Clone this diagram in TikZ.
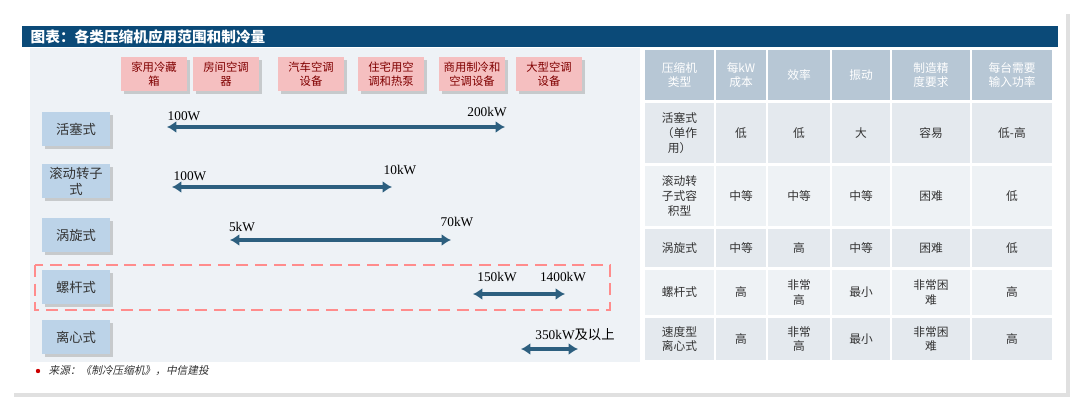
\documentclass[tikz,border=0pt]{standalone}
\usepackage{fontspec}
\setmainfont{Liberation Serif}
\newfontfamily\cjk{Noto Sans CJK SC}
\newfontfamily\cjkslant[FakeSlant=0.2]{Noto Sans CJK SC}
\usetikzlibrary{arrows.meta,positioning,shadows}
\definecolor{barblue}{HTML}{0B4A78}
\definecolor{panelbg}{HTML}{EEF2F6}
\definecolor{pinkfill}{HTML}{F5BFC0}
\definecolor{rowblue}{HTML}{BCD3E8}
\definecolor{arrowblue}{HTML}{2D5F7F}
\definecolor{headfill}{HTML}{B7C7D5}
\definecolor{rowa}{HTML}{E4E9EE}
\definecolor{rowb}{HTML}{EEF2F5}
\begin{document}
\begin{tikzpicture}[x=0.75pt,y=-0.75pt,
    appbox/.style={fill=pinkfill, minimum width=50pt, minimum height=26pt, inner sep=1pt, align=center,
                   font=\cjk\fontsize{8.5}{10.5}\selectfont, text=red!50!black, drop shadow={opacity=.35}},
    typebox/.style={fill=rowblue, minimum width=51pt, minimum height=26pt, inner sep=1pt, align=center,
                    font=\cjk\fontsize{10}{12}\selectfont, text=black!80, drop shadow={opacity=.35}},
    spanarrow/.style={{Latex[length=7pt,width=9pt]}-{Latex[length=7pt,width=9pt]}, line width=3pt, arrowblue},
    value/.style={font=\fontsize{10}{11}\selectfont, inner sep=0},
    cell/.style={font=\cjk\fontsize{8.8}{11}\selectfont, align=center, text=black!80}
    ]
    \useasboundingbox (0,0) rectangle (1080,403);
    \fill[white] (0,0) rectangle (1080,403);
    \fill[black!12] (14,14) rectangle (1070,397);
    \fill[white] (12,12) rectangle (1066,393);
    % title bar
    \fill[barblue] (22,26) rectangle (1058,47);
    \node[anchor=west, text=white, font=\cjk\bfseries\fontsize{11}{12}\selectfont] (title) at (26,36.5) {图表：各类压缩机应用范围和制冷量};
    % left panel
    \fill[panelbg] (30,48) rectangle (640,362);
    \node[appbox] (a1) at (154,74) {家用冷藏\\箱};
    \node[appbox] (a2) at (226,74) {房间空调\\器};
    \node[appbox] (a3) at (311,74) {汽车空调\\设备};
    \node[appbox] (a4) at (391,74) {住宅用空\\调和热泵};
    \node[appbox] (a5) at (472,74) {商用制冷和\\空调设备};
    \node[appbox] (a6) at (549,74) {大型空调\\设备};
    \node[typebox] (t1) at (76,129) {活塞式};
    \node[typebox] (t2) at (76,181) {滚动转子\\式};
    \node[typebox] (t3) at (76,235) {涡旋式};
    \node[typebox] (t4) at (76,287) {螺杆式};
    \node[typebox] (t5) at (76,337) {离心式};
    % ranges
    \coordinate (r1a) at (167,127); \coordinate (r1b) at (505,127);
    \coordinate (r2a) at (172,187); \coordinate (r2b) at (392,187);
    \coordinate (r3a) at (230,240); \coordinate (r3b) at (451,240);
    \coordinate (r4a) at (473,294); \coordinate (r4b) at (565,294);
    \coordinate (r5a) at (521,349); \coordinate (r5b) at (578,349);
    \draw[spanarrow] (r1a) -- (r1b);
    \draw[spanarrow] (r2a) -- (r2b);
    \draw[spanarrow] (r3a) -- (r3b);
    \draw[spanarrow] (r4a) -- (r4b);
    \draw[spanarrow] (r5a) -- (r5b);
    \node[value] (v1a) at (184,116) {100W};
    \node[value] (v1b) at (487,112) {200kW};
    \node[value] (v2a) at (190,176) {100W};
    \node[value] (v2b) at (400,170) {10kW};
    \node[value] (v3a) at (242,227) {5kW};
    \node[value] (v3b) at (457,222) {70kW};
    \node[value] (v4a) at (497,277) {150kW};
    \node[value] (v4b) at (563,277) {1400kW};
    \node[value] (v5) at (575,335) {350kW{\cjk 及以上}};
    \draw[red!45, line width=1.6pt, dash pattern=on 9pt off 5pt] (35,265) rectangle (610,310);
    % table
    \foreach \xa/\xb [count=\c] in {645/714,716/766,768/830,832/890,892/970,972/1052} {
      \fill[headfill] (\xa,50) rectangle (\xb,100);
      \fill[rowa] (\xa,103) rectangle (\xb,163);
      \fill[rowb] (\xa,166) rectangle (\xb,226);
      \fill[rowa] (\xa,229) rectangle (\xb,267);
      \fill[rowb] (\xa,270) rectangle (\xb,315);
      \fill[rowa] (\xa,318) rectangle (\xb,360);
    }
    \foreach \x/\txt [count=\c] in {679.5/{压缩机\\类型},741/{每kW\\成本},799/效率,861/振动,931/{制造精\\度要求},1012/{每台需要\\输入功率}}
      \node[cell, text=white] (h\c) at (\x,75) {\txt};
    \foreach \y/\r in {133/{活塞式\\（单作\\用）,低,低,大,容易,低-高},
                      196/{滚动转\\子式容\\积型,中等,中等,中等,困难,低},
                      248/{涡旋式,中等,高,中等,困难,低},
                      292.5/{螺杆式,高,非常\\高,最小,非常困\\难,高},
                      339/{速度型\\离心式,高,非常\\高,最小,非常困\\难,高}}
      \foreach \txt [count=\c] in \r {
        \pgfmathsetmacro\cx{{679.5,741,799,861,931,1012}[\c-1]}
        \node[cell] at (\cx,\y) {\txt};
      }
    % source
    \fill[red!80!black] (38,371) circle (2.2);
    \node[anchor=west, font=\cjkslant\fontsize{8}{9}\selectfont, text=black!80] (src) at (44,371) {来源：《制冷压缩机》，中信建投};
\end{tikzpicture}
\end{document}
